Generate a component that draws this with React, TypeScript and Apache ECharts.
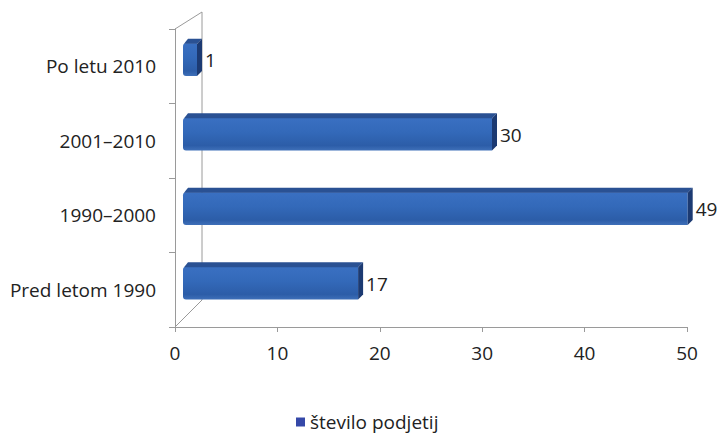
import React, { useEffect, useRef } from "react";
import * as echarts from "echarts";

const categories = ["Pred letom 1990", "1990–2000", "2001–2010", "Po letu 2010"];
const values = [17, 49, 30, 1];
const seriesName = "število podjetij";
const xTicks = { min: 0, max: 50, interval: 10 };

const FONT = '"Open Sans", "DejaVu Sans", sans-serif';

export default function App() {
  const ref = useRef<HTMLDivElement>(null);
  useEffect(() => {
    if (!ref.current) return;
    const chart = echarts.init(ref.current, null, { renderer: "svg" });
    const gridL = 175, gridT = 29, gridB = 327;
    const wallDx = 27, wallDy = 17;
    const lineColor = "#9a9a9a";
    const option: any = {
      animation: false,
      backgroundColor: "#ffffff",
      grid: [
        { left: gridL, right: 34, top: gridT, bottom: 434 - gridB },
        { left: 188, width: 515, top: 20, bottom: 116 },
      ],
      xAxis: [
        {
          type: "value",
          gridIndex: 0,
          min: xTicks.min,
          max: xTicks.max,
          interval: xTicks.interval,
          splitLine: { show: false },
          axisLine: { show: true, lineStyle: { color: lineColor, width: 1 } },
          axisTick: { show: true, length: 5, lineStyle: { color: lineColor } },
          axisLabel: { margin: 16, color: "#222", fontSize: 19, fontFamily: FONT },
        },
        {
          type: "value",
          gridIndex: 1,
          min: xTicks.min,
          max: xTicks.max,
          show: false,
        },
      ],
      yAxis: [
        {
          type: "category",
          gridIndex: 0,
          data: categories,
          axisLine: { show: true, lineStyle: { color: lineColor, width: 1 } },
          axisTick: { show: true, length: 6, lineStyle: { color: lineColor } },
          axisLabel: { margin: 19, color: "#222", fontSize: 19, fontFamily: FONT },
          splitLine: { show: false },
        },
        {
          type: "category",
          gridIndex: 1,
          data: categories,
          show: false,
        },
      ],
      legend: {
        show: true,
        left: 296,
        top: 412,
        padding: 0,
        icon: "rect",
        itemWidth: 9,
        itemHeight: 9,
        data: [seriesName],
        textStyle: { color: "#222", fontSize: 19, fontFamily: FONT, lineHeight: 20 },
      },
      graphic: [
        { type: "line", shape: { x1: gridL, y1: gridT, x2: gridL + wallDx, y2: gridT - wallDy }, style: { stroke: lineColor, lineWidth: 1 } },
        { type: "line", shape: { x1: gridL + wallDx, y1: gridT - wallDy, x2: gridL + wallDx, y2: gridB - wallDy - 10 }, style: { stroke: lineColor, lineWidth: 1 } },
        { type: "line", shape: { x1: gridL + wallDx, y1: gridB - wallDy - 10, x2: gridL, y2: gridB }, style: { stroke: lineColor, lineWidth: 1 } },
      ],
      series: [
        {
          name: seriesName,
          type: "custom",
          xAxisIndex: 1,
          yAxisIndex: 1,
          itemStyle: { color: "#3548A8" },
          encode: { x: 0, y: 1 },
          data: values.map((v, i) => [v, i]),
          renderItem: (params: any, api: any) => {
            const v = api.value(0);
            const ci = api.value(1);
            const p0 = api.coord([0, ci]);
            const p1 = api.coord([v, ci]);
            const band = api.size([0, 1])[1];
            const h = band * 0.5;
            const d = 5;
            const xL = p0[0] - 5;
            const xR = Math.max(p1[0], xL + 19);
            const yT = p0[1] - h / 2;
            const yB = p0[1] + h / 2;
            const grad = new echarts.graphic.LinearGradient(0, 0, 0, 1, [
              { offset: 0, color: "#3A70C2" },
              { offset: 0.45, color: "#3369B9" },
              { offset: 0.85, color: "#2C5DA8" },
              { offset: 1, color: "#3E6FB8" },
            ]);
            return {
              type: "group",
              children: [
                {
                  type: "rect",
                  shape: { x: xL, y: yT + d - 0.5, width: xR - d - xL, height: yB - yT - d + 0.5, r: [3, 0, 0, 3] },
                  style: { fill: grad },
                },
                {
                  type: "polygon",
                  shape: { points: [[xL + 1, yT + d], [xL + d, yT], [xR, yT], [xR - d, yT + d]] },
                  style: { fill: "#2A5193" },
                },
                {
                  type: "polygon",
                  shape: { points: [[xR - d, yT + d], [xR, yT], [xR, yB - d], [xR - d, yB]] },
                  style: { fill: "#1C3A72" },
                },
                {
                  type: "text",
                  style: {
                    text: String(v),
                    x: xR + 3,
                    y: p0[1] + 3,
                    verticalAlign: "middle",
                    align: "left",
                    fill: "#222",
                    font: `19px ${FONT}`,
                  },
                },
              ],
            };
          },
        },
      ],
    };
    chart.setOption(option);
    return () => chart.dispose();
  }, []);
  return (
    <div
      ref={ref}
      style={{ position: "fixed", left: 0, top: 0, width: 721, height: 434, background: "#fff" }}
    />
  );
}
